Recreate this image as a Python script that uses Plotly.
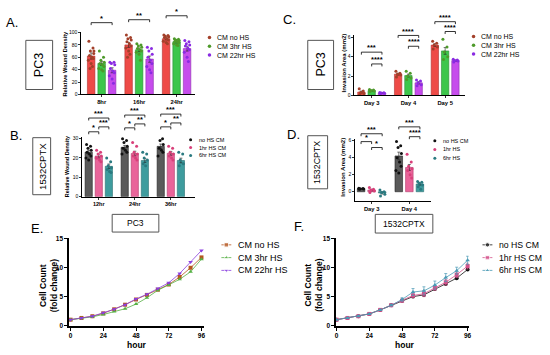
import plotly.graph_objects as go

W, H = 550, 355
FONT = "Liberation Sans"

# ---------------- DATA ----------------
# Panel A (PC3 wound density)
a_cats = ["8hr", "16hr", "24hr"]
a_names = ["CM no HS", "CM 3hr HS", "CM 22hr HS"]
a_nohs_mean = [62, 80, 90]
a_3hr_mean = [50, 72, 85]
a_22hr_mean = [39, 57, 74]
a_nohs_sem = [5, 4, 2]
a_3hr_sem = [3, 3, 2]
a_22hr_sem = [4, 5, 4]
a_nohs_pts = [[86, 75, 70, 66, 63, 60, 58, 55, 50, 45, 42, 70],
              [96, 92, 90, 88, 85, 82, 78, 75, 70, 65, 60],
              [96, 95, 94, 93, 92, 90, 88, 86, 84, 82]]
a_3hr_pts = [[70, 60, 55, 52, 50, 48, 45, 42, 40, 38],
             [82, 80, 78, 76, 74, 72, 70, 68, 65, 55],
             [90, 89, 88, 87, 86, 85, 84, 82, 80, 79]]
a_22hr_pts = [[52, 52, 50, 48, 42, 38, 35, 30, 25, 18],
              [76, 74, 70, 65, 60, 55, 50, 45, 40, 35],
              [87, 85, 82, 80, 78, 75, 72, 68, 60, 53]]

# Panel B (1532CPTX wound density)
b_cats = ["12hr", "24hr", "36hr"]
b_names = ["no HS CM", "1hr HS CM", "6hr HS CM"]
b_nohs_mean = [23, 25.5, 26]
b_1hr_mean = [21, 22.3, 22.4]
b_6hr_mean = [15.7, 18.7, 18.7]
b_nohs_sem = [1.0, 1.0, 1.2]
b_1hr_sem = [1.0, 1.2, 1.0]
b_6hr_sem = [1.2, 1.0, 1.2]
b_nohs_pts = [[27, 26, 25, 24, 23, 22, 21, 20, 19],
              [30, 29, 28, 26, 25, 24, 23, 22],
              [32, 30, 29, 27, 25, 24, 23, 21]]
b_1hr_pts = [[24, 23, 22, 21, 20, 19, 18, 20],
             [28, 26, 23, 22, 21, 20, 19],
             [26, 25, 23, 22, 21, 20, 19]]
b_6hr_pts = [[20, 18, 16, 15, 14, 13, 12.5],
             [23, 22, 20, 19, 17, 16],
             [23, 22, 19, 17, 16]]

# Panel C (PC3 invasion)
c_cats = ["Day 3", "Day 4", "Day 5"]
c_nohs_mean = [0.35, 2.2, 5.2]
c_3hr_mean = [0.5, 2.05, 4.6]
c_22hr_mean = [0.25, 1.3, 3.6]
c_nohs_sem = [0.1, 0.1, 0.15]
c_3hr_sem = [0.05, 0.15, 0.35]
c_22hr_sem = [0.03, 0.12, 0.06]
c_nohs_pts = [[0.7, 0.45, 0.3, 0.2, 0.1], [2.5, 2.3, 2.2, 2.1, 1.9], [5.6, 5.4, 5.2, 5.0, 4.8]]
c_3hr_pts = [[0.6, 0.55, 0.5, 0.45, 0.4], [2.5, 2.3, 2.0, 1.8, 1.65], [5.8, 5.0, 4.5, 4.0, 3.7]]
c_22hr_pts = [[0.3, 0.28, 0.25, 0.22, 0.2], [1.6, 1.5, 1.3, 1.1, 1.0], [3.75, 3.65, 3.6, 3.55, 3.45]]

# Panel D (1532CPTX invasion)
d_cats = ["Day 3", "Day 4"]
d_names = ["no HS CM", "1hr HS", "6hr HS"]
d_nohs_mean = [0.35, 4.2]
d_1hr_mean = [0.2, 2.85]
d_6hr_mean = [-0.15, 0.9]
d_nohs_sem = [0.03, 0.45]
d_1hr_sem = [0.1, 0.35]
d_6hr_sem = [0.12, 0.12]
d_nohs_pts = [[0.4, 0.38, 0.35, 0.33, 0.3], [5.9, 5.4, 5.2, 4.5, 4.0, 3.5, 3.0, 2.5, 2.2]]
d_1hr_pts = [[0.5, 0.3, 0.2, 0.1, -0.1], [4.4, 3.5, 3.0, 2.7, 2.5, 2.0, 1.6]]
d_6hr_pts = [[0.2, 0.0, -0.1, -0.3, -0.5], [1.2, 1.1, 1.0, 0.8, 0.6, 0.3]]

# Panels E/F (growth curves)
hours = [0, 8, 16, 24, 32, 40, 48, 56, 64, 72, 80, 88, 96]
e_nohs = [1, 1.3, 1.6, 2.1, 2.8, 3.6, 4.5, 5.3, 6.2, 7.1, 8.4, 10.0, 11.8]
e_3hr = [1, 1.25, 1.5, 1.9, 2.4, 2.9, 3.7, 4.8, 6.1, 7.0, 8.0, 9.3, 11.5]
e_22hr = [1, 1.3, 1.6, 2.2, 2.8, 3.6, 4.6, 5.4, 6.4, 7.4, 9.0, 11.0, 13.0]
f_nohs = [1, 1.3, 1.6, 2.0, 2.7, 3.5, 4.3, 5.0, 5.3, 6.3, 7.2, 8.2, 9.7]
f_1hr = [1, 1.3, 1.6, 2.0, 2.7, 3.5, 4.3, 5.2, 5.5, 6.5, 7.5, 8.8, 10.3]
f_6hr = [1, 1.3, 1.6, 2.0, 2.7, 3.5, 4.5, 5.8, 6.0, 7.0, 8.3, 9.5, 11.3]
f_1hr_err = [0, 0, 0, 0, 0, 0.1, 0.2, 0.4, 0.5, 0.4, 0.5, 0.5, 0.5]
f_6hr_err = [0, 0, 0, 0, 0, 0.1, 0.3, 0.6, 0.7, 0.7, 0.7, 0.6, 0.7]
hour_ticks = [0, 24, 48, 72, 96]

# ---------------- STYLE ----------------
A_COL = ["#EE4B47", "#3DC64B", "#C64CEC"]
A_DOT = ["#A3402A", "#4E9A2A", "#8A2BE2"]
A_EDGE = ["#B03030", "#2A8A35", "#8E2FB0"]
B_COL = ["#5A5A5A", "#E9649A", "#3E9C9E"]
B_DOT = ["#111111", "#D8407A", "#2A7A80"]
B_EDGE = ["#222222", "#B03A6A", "#2A6E70"]
E_COL = ["#B5561F", "#55B043", "#8A3FE0"]
F_COL = ["#111111", "#D4508A", "#4A9AB5"]

OFFS = [-0.28, 0.0, 0.28]
BW = 0.2
JIT = [-0.06, 0.05, -0.02, 0.07, -0.045, 0.02, 0.06, -0.075, 0.0, 0.035, -0.03, 0.075]

def px(x):
    return x / W

def py(y):
    return 1 - y / H

# panel geometry in pixels: x px range, y px range (top,bottom) and data ranges
panels = {
    "A": dict(ax="x", ay="y", xp=(81, 195), yp=(30, 93), xr=(-0.54, 2.48), yr=(0, 100)),
    "B": dict(ax="x2", ay="y2", xp=(82, 195), yp=(136, 197), xr=(-0.455, 2.66), yr=(0, 31)),
    "C": dict(ax="x3", ay="y3", xp=(356, 467), yp=(33, 94), xr=(-0.47, 2.53), yr=(0, 6.2)),
    "D": dict(ax="x4", ay="y4", xp=(357, 433), yp=(138, 201), xr=(-0.43, 1.57), yr=(-1.04, 6.23)),
    "E": dict(ax="x5", ay="y5", xp=(68, 204), yp=(239, 329), xr=(-1.5, 97.5), yr=(-0.17, 15.17)),
    "F": dict(ax="x6", ay="y6", xp=(337, 471), yp=(239, 329), xr=(-0.73, 96.7), yr=(-0.17, 15.17)),
}

def data_to_px(p, x):
    g = panels[p]
    return g["xp"][0] + (x - g["xr"][0]) / (g["xr"][1] - g["xr"][0]) * (g["xp"][1] - g["xp"][0])

fig = go.Figure()

def bar_panel(p, cats, means, sems, pts, cols, dots, edges):
    g = panels[p]
    for k in range(3):
        fig.add_trace(go.Bar(
            x=list(range(len(cats))), y=means[k], xaxis=g["ax"], yaxis=g["ay"],
            width=BW, offset=OFFS[k] - BW / 2,
            marker=dict(color=cols[k], line=dict(color=edges[k], width=0.6)),
            error_y=dict(type="data", array=sems[k], color="#222", thickness=0.6, width=1.5),
            showlegend=False, hoverinfo="skip"))
        xs, ys = [], []
        for i, grp in enumerate(pts[k]):
            for j, v in enumerate(grp):
                xs.append(i + OFFS[k] + JIT[j % len(JIT)])
                ys.append(v)
        fig.add_trace(go.Scatter(
            x=xs, y=ys, mode="markers", xaxis=g["ax"], yaxis=g["ay"],
            marker=dict(color=dots[k], size=3), showlegend=False,
            hoverinfo="skip", cliponaxis=False))

bar_panel("A", a_cats, [a_nohs_mean, a_3hr_mean, a_22hr_mean], [a_nohs_sem, a_3hr_sem, a_22hr_sem],
          [a_nohs_pts, a_3hr_pts, a_22hr_pts], A_COL, A_DOT, A_EDGE)
bar_panel("B", b_cats, [b_nohs_mean, b_1hr_mean, b_6hr_mean], [b_nohs_sem, b_1hr_sem, b_6hr_sem],
          [b_nohs_pts, b_1hr_pts, b_6hr_pts], B_COL, B_DOT, B_EDGE)
bar_panel("C", c_cats, [c_nohs_mean, c_3hr_mean, c_22hr_mean], [c_nohs_sem, c_3hr_sem, c_22hr_sem],
          [c_nohs_pts, c_3hr_pts, c_22hr_pts], A_COL, A_DOT, A_EDGE)
bar_panel("D", d_cats, [d_nohs_mean, d_1hr_mean, d_6hr_mean], [d_nohs_sem, d_1hr_sem, d_6hr_sem],
          [d_nohs_pts, d_1hr_pts, d_6hr_pts], B_COL, B_DOT, B_EDGE)

# growth curves
e_syms = ["square", "triangle-up", "triangle-down"]
for k, ys in enumerate([e_nohs, e_3hr, e_22hr]):
    fig.add_trace(go.Scatter(x=hours, y=ys, mode="lines+markers", xaxis="x5", yaxis="y5",
                             line=dict(color=E_COL[k], width=0.8),
                             marker=dict(symbol=e_syms[k], size=4, color=E_COL[k]),
                             showlegend=False, hoverinfo="skip", cliponaxis=False))
f_syms = ["circle", "square", "triangle-up"]
f_errs = [None, f_1hr_err, f_6hr_err]
for k, ys in enumerate([f_nohs, f_1hr, f_6hr]):
    err = dict(type="data", array=f_errs[k], color=F_COL[k], thickness=0.7, width=1.5) if f_errs[k] else None
    fig.add_trace(go.Scatter(x=hours, y=ys, mode="lines+markers", xaxis="x6", yaxis="y6",
                             line=dict(color=F_COL[k], width=0.8),
                             marker=dict(symbol=f_syms[k], size=4, color=F_COL[k]),
                             error_y=err,
                             showlegend=False, hoverinfo="skip", cliponaxis=False))

# ---------------- AXES ----------------
layout_axes = {}
def axis_names(p):
    g = panels[p]
    xn = "xaxis" + g["ax"][1:]
    yn = "yaxis" + g["ay"][1:]
    return xn, yn

def bar_axes(p, cats, ytickvals, xfs, yfs):
    g = panels[p]
    xn, yn = axis_names(p)
    layout_axes[xn] = dict(domain=[px(g["xp"][0]), px(g["xp"][1])], range=list(g["xr"]),
                           anchor=g["ay"], tickvals=list(range(len(cats))), ticktext=cats,
                           showline=True, linecolor="black", linewidth=1, ticks="outside",
                           ticklen=2, tickwidth=0.8, tickcolor="black", showgrid=False,
                           zeroline=False, tickfont=dict(family=FONT, size=xfs, color="black", weight="bold"))
    layout_axes[yn] = dict(domain=[py(g["yp"][1]), py(g["yp"][0])], range=list(g["yr"]),
                           anchor=g["ax"], tickvals=ytickvals, showline=True, linecolor="black",
                           linewidth=1, ticks="outside", ticklen=2, tickwidth=0.8, tickcolor="black",
                           showgrid=False, zeroline=False,
                           tickfont=dict(family=FONT, size=yfs, color="black"))

bar_axes("A", a_cats, [0, 20, 40, 60, 80, 100], 5.8, 5)
bar_axes("B", b_cats, [0, 10, 20, 30], 5.5, 5)
bar_axes("C", c_cats, [0, 2, 4, 6], 5.8, 5)
bar_axes("D", d_cats, [0, 2, 4, 6], 5.8, 5)

for p in ["E", "F"]:
    g = panels[p]
    xn, yn = axis_names(p)
    layout_axes[xn] = dict(domain=[px(g["xp"][0]), px(g["xp"][1])], range=list(g["xr"]),
                           anchor=g["ay"], tickvals=hour_ticks, showline=True, linecolor="black",
                           linewidth=1.2, ticks="outside", ticklen=3, tickcolor="black",
                           showgrid=False, zeroline=False,
                           tickfont=dict(family=FONT, size=6.5, color="black", weight="bold"))
    layout_axes[yn] = dict(domain=[py(g["yp"][1]), py(g["yp"][0])], range=list(g["yr"]),
                           anchor=g["ax"], tickvals=[0, 5, 10, 15], showline=True, linecolor="black",
                           linewidth=1.2, ticks="outside", ticklen=3, tickcolor="black",
                           showgrid=False, zeroline=False,
                           tickfont=dict(family=FONT, size=6.5, color="black", weight="bold"))

# legend overlay axis in pixel units
layout_axes["xaxis7"] = dict(domain=[0, 1], range=[0, W], visible=False, anchor="y7", fixedrange=True)
layout_axes["yaxis7"] = dict(domain=[0, 1], range=[H, 0], visible=False, anchor="x7", fixedrange=True)

annotations = []
shapes = []

def text(x, y, s, size, bold=False, angle=0, xanchor="center", yanchor="middle", color="black"):
    annotations.append(dict(x=px(x), y=py(y), xref="paper", yref="paper", text=s, showarrow=False,
                            textangle=angle, xanchor=xanchor, yanchor=yanchor,
                            font=dict(family=FONT, size=size, color=color,
                                      weight="bold" if bold else "normal")))

# legends (bar panels)
def dot_legend(x, ys, names, cols, size, msize):
    fig.add_trace(go.Scatter(x=[x] * len(ys), y=ys, mode="markers", xaxis="x7", yaxis="y7",
                             marker=dict(color=cols, size=msize), showlegend=False,
                             hoverinfo="skip", cliponaxis=False))
    for yy, nm in zip(ys, names):
        text(x + 6, yy, nm, size, xanchor="left")

dot_legend(210, [35, 44, 53], a_names, A_DOT, 7, 3.5)
dot_legend(476, [34, 43, 52], a_names, A_DOT, 7, 3.5)
dot_legend(191, [139, 147, 155], b_names, B_DOT, 5.5, 3)
dot_legend(437, [140, 149, 158], d_names, B_DOT, 5.5, 3)

def line_legend(x, ys, names, cols, syms, size):
    for yy, c, s in zip(ys, cols, syms):
        fig.add_trace(go.Scatter(x=[x - 5, x, x + 5], y=[yy, yy, yy], mode="lines+markers",
                                 xaxis="x7", yaxis="y7", line=dict(color=c, width=0.8),
                                 marker=dict(symbol=s, size=[0, 4.5, 0], color=c),
                                 showlegend=False, hoverinfo="skip", cliponaxis=False))
    for yy, nm in zip(ys, names):
        text(x + 10, yy, nm, size, xanchor="left")

line_legend(227, [246, 259, 272], a_names, E_COL, e_syms, 9)
line_legend(490, [246, 259, 272], b_names, F_COL, f_syms, 8.7)

# significance brackets
def bracket(p, grp, i, j, yline, label, size=7.5):
    x1 = data_to_px(p, grp + OFFS[i])
    x2 = data_to_px(p, grp + OFFS[j])
    shapes.append(dict(type="path", xref="paper", yref="paper",
                       path="M %f,%f L %f,%f L %f,%f L %f,%f" % (
                           px(x1), py(yline + 2.5), px(x1), py(yline), px(x2), py(yline), px(x2), py(yline + 2.5)),
                       line=dict(color="black", width=0.8)))
    text((x1 + x2) / 2, yline + 2.2, label, size, bold=True, yanchor="bottom")

bracket("A", 0, 0, 2, 20, "*")
bracket("A", 1, 0, 2, 17, "**")
bracket("A", 2, 0, 2, 13, "*")

bracket("B", 0, 0, 2, 117, "***")
bracket("B", 0, 0, 1, 131, "*")
bracket("B", 0, 1, 2, 126, "***")
bracket("B", 1, 0, 2, 114, "***")
bracket("B", 1, 0, 1, 127, "*")
bracket("B", 1, 1, 2, 123, "**")
bracket("B", 2, 0, 2, 113, "***")
bracket("B", 2, 0, 1, 126, "*")
bracket("B", 2, 1, 2, 122, "**")

bracket("C", 0, 0, 2, 50, "***")
bracket("C", 0, 1, 2, 62, "****")
bracket("C", 1, 0, 2, 33, "****")
bracket("C", 1, 1, 2, 44, "****")
bracket("C", 2, 0, 2, 19, "****")
bracket("C", 2, 1, 2, 29, "****")

bracket("D", 0, 0, 2, 133, "***")
bracket("D", 0, 0, 1, 141, "*")
bracket("D", 0, 1, 2, 147, "*")
bracket("D", 1, 0, 2, 126, "***")
bracket("D", 1, 1, 2, 136, "****")

# axis titles
text(64.5, 61.5, "Relative Wound Density", 5.7, bold=True, angle=-90)
text(66.5, 167, "Relative Wound Density", 5.4, bold=True, angle=-90)
text(345, 61, "Invasion Area (mm2)", 6, bold=True, angle=-90)
text(345, 167, "Invasion Area (mm2)", 6, bold=True, angle=-90)
text(47.5, 287, "Cell Count<br>(fold change)", 8.5, bold=True, angle=-90)
text(314, 287, "Cell Count<br>(fold change)", 8.5, bold=True, angle=-90)
text(137, 348, "hour", 8.5, bold=True)
text(407, 348, "hour", 8.5, bold=True)

# panel letters
for lab, x, y in [("A.", 3, 20), ("B.", 7, 135), ("C.", 282, 17), ("D.", 286, 134), ("E.", 28, 229), ("F.", 293, 227)]:
    text(x, y, lab, 13, xanchor="left")

# cell line boxes
def box(x0, y0, x1, y1, s, size, angle):
    shapes.append(dict(type="rect", xref="paper", yref="paper", x0=px(x0), x1=px(x1),
                       y0=py(y1), y1=py(y0), line=dict(color="#555", width=1)))
    text((x0 + x1) / 2, (y0 + y1) / 2, s, size, angle=angle)

box(25, 38, 52, 88, "PC3", 12.5, -90)
box(32, 137, 50, 195, "1532CPTX", 9.5, -90)
box(309, 135, 329, 189, "1532CPTX", 8.8, -90)
box(309, 38, 335, 88, "PC3", 12.5, -90)
box(112, 215, 159, 233, "PC3", 8.5, 0)
box(377, 215, 435, 234, "1532CPTX", 8.5, 0)

fig.update_layout(width=W, height=H, margin=dict(l=0, r=0, t=0, b=0),
                  paper_bgcolor="white", plot_bgcolor="rgba(0,0,0,0)",
                  showlegend=False, annotations=annotations, shapes=shapes,
                  font=dict(family=FONT, color="black"), **layout_axes)

fig.write_html("out.html", config={"displayModeBar": False, "staticPlot": True},
               post_script="document.body.style.margin='0';document.body.style.overflow='hidden';")
